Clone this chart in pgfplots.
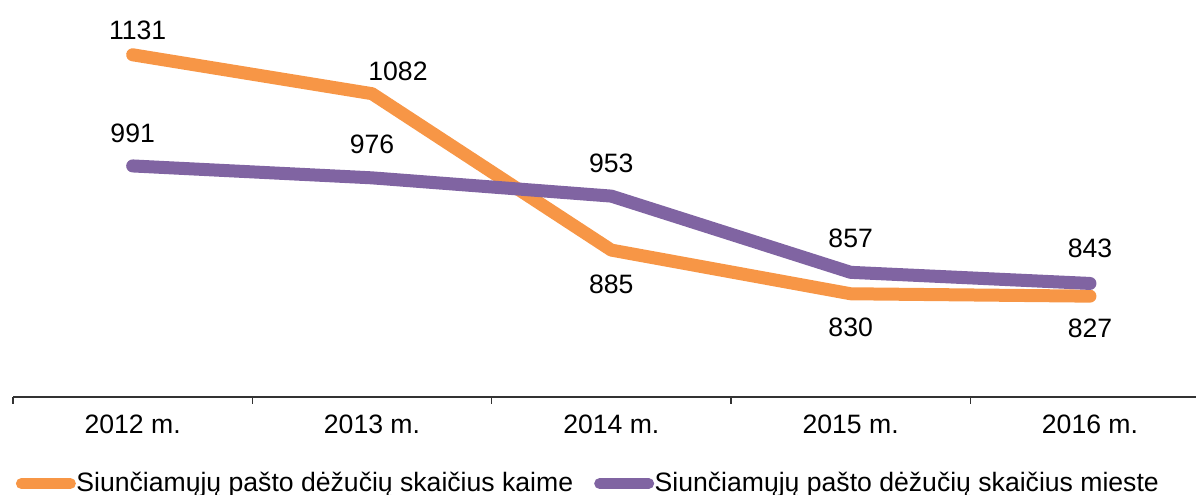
\documentclass[border=0pt]{standalone}
\usepackage{pgfplots}
\pgfplotsset{compat=1.18}
\usepackage{pgfplotstable}
\usepackage{fontspec}
\setmainfont{Liberation Sans}
\definecolor{orng}{HTML}{F79646}
\definecolor{purp}{HTML}{8064A2}
\pgfplotstableread{
x y dx dy
0 1131 2.5 12
1 1082 13 11
2 885 0 -17
3 830 0 -17
4 827 0 -16
}\kaime
\pgfplotstableread{
x y dx dy
0 991 0 16.5
1 976 0 17
2 953 0 16.5
3 857 0 17
4 843 0 17.5
}\mieste
\begin{document}
\begin{tikzpicture}
\begin{axis}[
  scale only axis,
  width=591.5pt, height=198.5pt,
  xmin=-0.5, xmax=4.443,
  ymin=700, ymax=1200,
  axis x line=bottom,
  axis y line=none,
  x axis line style={-, line width=1pt, color=black!80},
  xtick={0,1,2,3,4},
  xticklabels={2012 m.,2013 m.,2014 m.,2015 m.,2016 m.},
  major tick length=0pt,
  minor xtick={-0.5,0.5,1.5,2.5,3.5},
  minor tick length=3.5pt,
  tick align=outside,
  minor tick style={line width=0.8pt, color=black!80},
  xticklabel style={font=\fontsize{13.3}{16}\selectfont, yshift=-5.5pt},
  clip=false,
  /pgf/number format/1000 sep={},
  /pgf/number format/assume math mode=true,
  nodes near coords,
  visualization depends on={\thisrow{dx} \as \dx},
  visualization depends on={\thisrow{dy} \as \dy},
  every node near coord/.append style={font=\fontsize{13.3}{16}\selectfont, anchor=center, xshift=\dx pt, yshift=\dy pt, color=black},
  legend columns=2,
  legend style={draw=none, fill=none, at={(rel axis cs:0,0)}, anchor=north west, xshift=1.25pt, yshift=-35.5pt,
    font=\fontsize{13.3}{16}\selectfont, inner sep=0pt,
    /tikz/every even column/.append style={column sep=8.5pt}},
  legend image code/.code={\draw[#1, line width=5.5pt, line cap=round] (0pt,0pt) -- (24.5pt,0pt);},
]
\addplot[orng, line width=6.5pt, line join=round, line cap=round] table[x=x, y=y, meta=y] {\kaime};
\addlegendentry{\hspace{-1.75pt}Siunčiamųjų pašto dėžučių skaičius kaime}
\addplot[purp, line width=6.5pt, line join=round, line cap=round] table[x=x, y=y, meta=y] {\mieste};
\addlegendentry{\hspace{-1.75pt}Siunčiamųjų pašto dėžučių skaičius mieste}
\coordinate (BL) at (rel axis cs:0,0);
\coordinate (TR) at (rel axis cs:1,1);
\end{axis}
\pgfresetboundingbox
\path[use as bounding box] ([xshift=-6.5pt,yshift=-49pt]BL) rectangle (TR);
\end{tikzpicture}
\end{document}
